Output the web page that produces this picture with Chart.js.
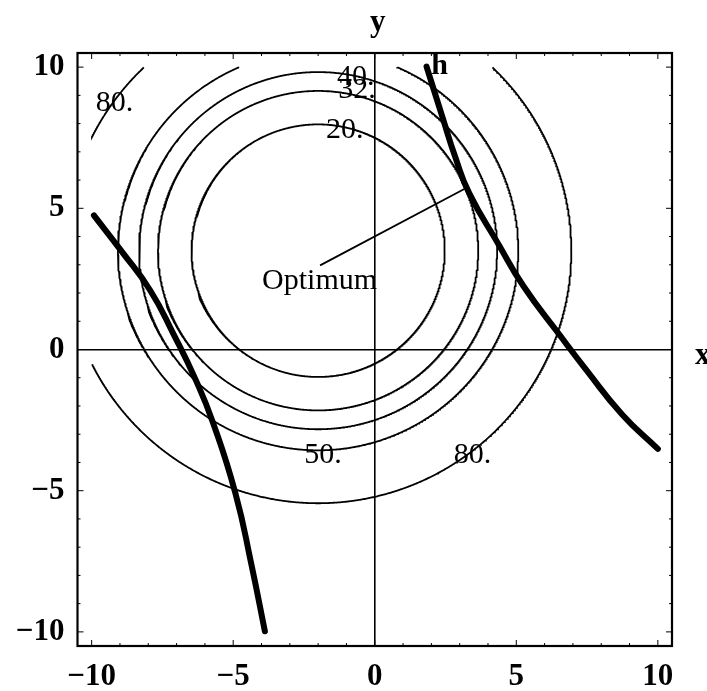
<!DOCTYPE html>
<html>
<head>
<meta charset="utf-8">
<script src="https://cdn.jsdelivr.net/npm/chart.js@4.4.0/dist/chart.umd.min.js"></script>
<style>
  body { margin: 0; background: #fff; }
  canvas { display: block; }
</style>
</head>
<body>
<canvas id="chart" width="707" height="691"></canvas>
<script>
// contour levels of f = (x - cx)^2 + (y - cy)^2
const contourCenter = [-2, 3.5];
const contourLevels = [20, 32, 40, 50, 80];
const plotRegion = [-10, 10];

// thick constraint curves "h"
const hLeftX = [-9.92, -8.96, -7.93, -7.10, -6.34, -5.71, -4.92, -4.36, -3.88];
const hLeftY = [4.75, 3.50, 2.09, 0.53, -1.04, -2.60, -5.10, -7.60, -9.98];
const hRightX = [1.83, 2.40, 2.85, 3.34, 4.37, 5.25, 6.52, 7.47, 8.73, 10.0];
const hRightY = [10.02, 8.20, 6.80, 5.53, 3.73, 2.25, 0.53, -0.72, -2.29, -3.52];

// pointer from the label to the optimum
const optimumX = [-1.93, 3.18];
const optimumY = [2.98, 5.69];

// text on the plot
const labelTexts = ['80.', '40.', '32.', '20.', '50.', '80.', 'Optimum', 'h'];
const labelX = [-9.19, -0.67, -0.63, -1.06, -1.83, 3.45, -1.95, 2.29];
const labelY = [8.73, 9.65, 9.18, 7.77, -3.73, -3.73, 2.41, 10.04];

// ticks: one every unit, labelled every five
const tickValues = [-10, -9, -8, -7, -6, -5, -4, -3, -2, -1, 0, 1, 2, 3, 4, 5, 6, 7, 8, 9, 10];
const tickLabels = [-10, -5, 0, 5, 10];

const serif = '"Liberation Serif", "Times New Roman", serif';

function contourPoints(level) {
  const r = Math.sqrt(level);
  const pts = [];
  for (let i = 0; i <= 1440; i++) {
    const a = i / 1440 * Math.PI * 2;
    const x = contourCenter[0] + r * Math.cos(a);
    const y = contourCenter[1] + r * Math.sin(a);
    if (x < plotRegion[0] || x > plotRegion[1] || y < plotRegion[0] || y > plotRegion[1]) {
      pts.push({ x, y: null });
    } else {
      pts.push({ x, y });
    }
  }
  return pts;
}

const zip = (xs, ys) => xs.map((x, i) => ({ x, y: ys[i] }));

const datasets = contourLevels.map(lv => ({
  data: contourPoints(lv),
  borderColor: '#000',
  borderWidth: 1.8,
  pointRadius: 0,
  showLine: true,
  spanGaps: false
}));
datasets.push({
  data: zip(optimumX, optimumY),
  borderColor: '#000', borderWidth: 1.8, pointRadius: 0, showLine: true
});
[[hLeftX, hLeftY], [hRightX, hRightY]].forEach(([xs, ys]) => {
  datasets.push({
    data: zip(xs, ys),
    borderColor: '#000', borderWidth: 6, borderCapStyle: 'round', borderJoinStyle: 'round',
    pointRadius: 0, showLine: true, tension: 0.5
  });
});

const tickText = v => tickLabels.includes(v) ? (v < 0 ? '\u2212' + Math.abs(v) : String(v)) : '';

const framePlugin = {
  id: 'frame',
  afterDatasetsDraw(chart) {
    const { ctx, chartArea: a, scales: { x, y } } = chart;
    ctx.save();
    ctx.strokeStyle = '#000';
    ctx.lineWidth = 2.2;
    ctx.strokeRect(a.left, a.top, a.right - a.left, a.bottom - a.top);
    ctx.lineWidth = 1;
    ctx.beginPath();
    tickValues.forEach(v => {
      const len = v % 5 === 0 ? 6 : 3;
      const px = x.getPixelForValue(v);
      const py = y.getPixelForValue(v);
      ctx.moveTo(px, a.bottom); ctx.lineTo(px, a.bottom - len);
      ctx.moveTo(px, a.top); ctx.lineTo(px, a.top + len);
      ctx.moveTo(a.left, py); ctx.lineTo(a.left + len, py);
      ctx.moveTo(a.right, py); ctx.lineTo(a.right - len, py);
    });
    ctx.stroke();

    ctx.fillStyle = '#000';
    ctx.textAlign = 'center';
    ctx.textBaseline = 'middle';
    labelTexts.forEach((t, i) => {
      ctx.font = (t === 'h' ? 'bold ' : '') + '30px ' + serif;
      ctx.fillText(t, x.getPixelForValue(labelX[i]), y.getPixelForValue(labelY[i]));
    });

    // axis names
    ctx.font = 'bold 31px ' + serif;
    ctx.fillText('y', x.getPixelForValue(0) + 3, a.top - 30);
    ctx.textAlign = 'left';
    ctx.fillText('x', a.right + 23, y.getPixelForValue(0) + 6);
    ctx.restore();
  }
};

// only the zero line of the grid is shown: it is the axis through the origin
const axisGrid = {
  display: true,
  drawTicks: false,
  lineWidth: 1.6,
  color: c => (c.tick && c.tick.value === 0 ? '#000' : 'rgba(0,0,0,0)')
};

const setTicks = s => { s.ticks = tickValues.map(v => ({ value: v })); };

new Chart(document.getElementById('chart').getContext('2d'), {
  type: 'scatter',
  data: { datasets },
  options: {
    responsive: false,
    animation: false,
    events: [],
    layout: { padding: { top: 53, right: 35, left: 0, bottom: 0 } },
    plugins: { legend: { display: false }, tooltip: { enabled: false } },
    scales: {
      x: {
        type: 'linear', min: -10.5, max: 10.5,
        grid: axisGrid,
        border: { display: false },
        afterBuildTicks: setTicks,
        ticks: {
          autoSkip: false, maxRotation: 0, padding: 12,
          color: '#000', font: { family: serif, size: 31, weight: 'bold' },
          callback: tickText
        },
        afterFit(s) { s.height = 45; }
      },
      y: {
        type: 'linear', min: -10.5, max: 10.5,
        grid: axisGrid,
        border: { display: false },
        afterBuildTicks: setTicks,
        ticks: {
          autoSkip: false, padding: 13,
          color: '#000', font: { family: serif, size: 31, weight: 'bold' },
          callback: tickText
        },
        afterFit(s) { s.width = 77.5; }
      }
    }
  },
  plugins: [framePlugin]
});
</script>
</body>
</html>
